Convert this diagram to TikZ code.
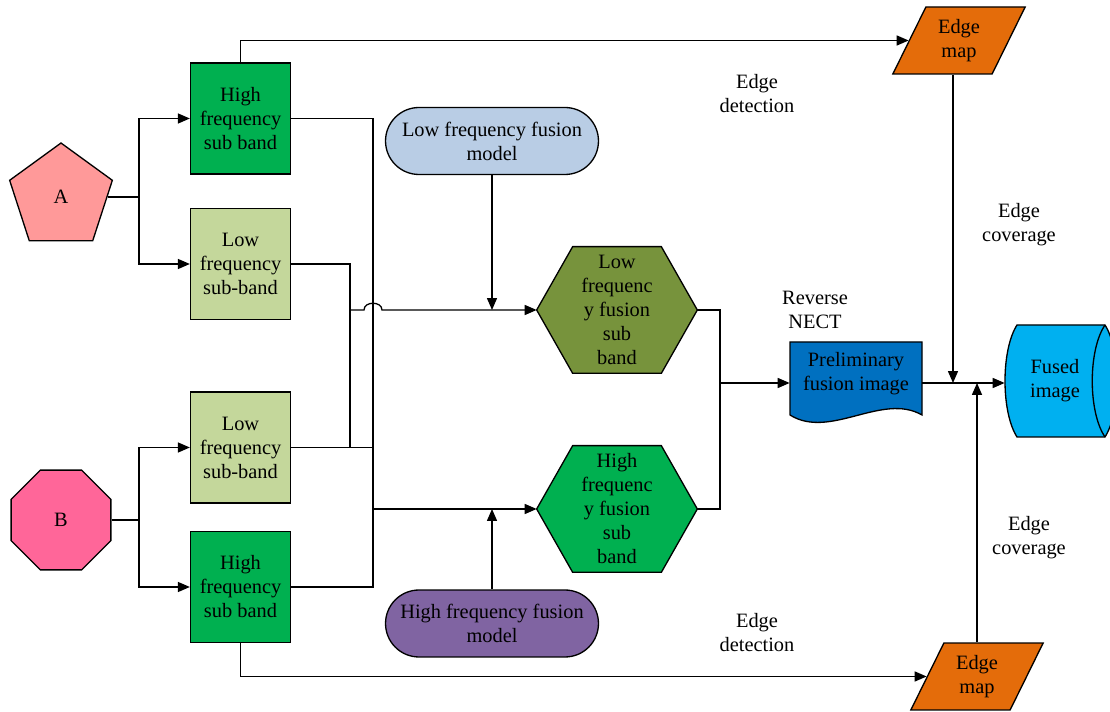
\documentclass[tikz,border=0pt]{standalone}
\usepackage{fontspec}
\setmainfont{Liberation Serif}
\usetikzlibrary{shapes.geometric,shapes.misc,arrows.meta,backgrounds,calc}

\definecolor{cA}{HTML}{FF9999}
\definecolor{cB}{HTML}{FF6699}
\definecolor{cHF}{HTML}{00B050}
\definecolor{cLF}{HTML}{C4D79B}
\definecolor{cLM}{HTML}{B9CDE5}
\definecolor{cHM}{HTML}{8064A2}
\definecolor{cHexL}{HTML}{77933C}
\definecolor{cDoc}{HTML}{0070C0}
\definecolor{cFused}{HTML}{00B0F0}
\definecolor{cEdge}{HTML}{E46C0A}

\begin{document}
\begin{tikzpicture}[x=0.02cm,y=-0.02cm,
  every node/.style={font=\fontsize{11.6}{13.66}\selectfont, align=center, inner sep=0pt},
  conn/.style={line width=0.75pt},
  arr/.style={conn,-{Triangle[length=6.8pt,width=5.7pt]}},
  shp/.style={draw=black, line width=0.75pt},
  band/.style={shp, rectangle, minimum width=2cm, minimum height=2.22cm},
  srcfive/.style={shp, regular polygon, regular polygon sides=5, minimum size=2.16cm, fill=cA},
  srceight/.style={shp, regular polygon, regular polygon sides=8, minimum size=2.16cm, fill=cB},
  model/.style={shp, rounded rectangle, minimum width=4.26cm, minimum height=1.34cm},
  hexa/.style={minimum width=3.2cm, minimum height=2.52cm},
  emap/.style={shp, fill=cEdge, trapezium, trapezium left angle=63.8, trapezium right angle=116.2,
    trapezium stretches=true, minimum width=2.66cm, minimum height=1.34cm},
  lbl/.style={}
]
\useasboundingbox (0,0) rectangle (1110,712);

% sources
\node[srcfive] (A) at (61,197) {A};
\node[srceight] (B) at (61,520) {B};

% decomposed sub bands
\node[band, fill=cHF] (hf1) at (240.5,118.5) {High\\frequency\\sub band};
\node[band, fill=cLF] (lf1) at (240.5,264) {Low\\frequency\\sub-band};
\node[band, fill=cLF] (lf2) at (240.5,447.5) {Low\\frequency\\sub-band};
\node[band, fill=cHF] (hf2) at (240.5,587) {High\\frequency\\sub band};

% fusion models
\node[model, fill=cLM] (lfm) at (492,141) {Low frequency fusion\\model};
\node[model, fill=cHM] (hfm) at (492,623.5) {High frequency fusion\\model};

% fused sub bands
\node[hexa] (hl) at (617,310) {Low\\frequenc\\y fusion\\sub\\band};
\node[hexa] (hh) at (617,509) {High\\frequenc\\y fusion\\sub\\band};

% results
\node[minimum width=2.64cm] (doc) at (856,374) {Preliminary\\fusion image};
\node[minimum width=2cm] (fused) at (1055,381) {Fused\\image};

% edge maps
\node[emap] (em1) at (959,40.5) {Edge\\map};
\node[emap] (em2) at (977,676.5) {Edge\\map};

% labels
\node[lbl] (ld1) at (757,94) {Edge\\detection};
\node[lbl] (lc1) at (1019,225) {Edge\\coverage};
\node[lbl] (lrn) at (815,310) {Reverse\\NECT};
\node[lbl] (lc2) at (1029,538) {Edge\\coverage};
\node[lbl] (ld2) at (757,633) {Edge\\detection};

% drawn outlines behind the text nodes
\begin{scope}[on background layer]
  \filldraw[shp, fill=cHexL] (hl.west) -- ([xshift=0.72cm]hl.north west) -- ([xshift=-0.72cm]hl.north east)
    -- (hl.east) -- ([xshift=-0.72cm]hl.south east) -- ([xshift=0.72cm]hl.south west) -- cycle;
  \filldraw[shp, fill=cHF] (hh.west) -- ([xshift=0.72cm]hh.north west) -- ([xshift=-0.72cm]hh.north east)
    -- (hh.east) -- ([xshift=-0.72cm]hh.south east) -- ([xshift=0.72cm]hh.south west) -- cycle;
  % document shape
  \filldraw[shp, fill=cDoc] (790,342) -- (922,342) -- (922,415)
    .. controls (882,392) and (830,440) .. (790,415) -- cycle;
  % horizontal drum
  \filldraw[shp, fill=cFused] (1017,325) -- (1105,325)
    .. controls (1121,350) and (1121,412) .. (1105,437) -- (1017,437)
    .. controls (1001,412) and (1001,350) .. (1017,325) -- cycle;
  \draw[shp] (1105,325) .. controls (1088,350) and (1088,412) .. (1105,437);
\end{scope}

% source splits
\coordinate (xa) at (139,0);
\coordinate (ja) at (A.east -| xa);
\coordinate (jb) at (B.east -| xa);
\draw[arr] (A.east) -- (ja) |- (hf1.west);
\draw[arr] (ja) |- (lf1.west);
\draw[arr] (B.east) -- (jb) |- (lf2.west);
\draw[arr] (jb) |- (hf2.west);

% edge detection
\draw[arr] (hf1.north) |- (em1.west);
\draw[arr] (hf2.south) |- (em2.west);

% low frequency merge with a hop over the high frequency bus
\coordinate (xl) at (350,0);
\coordinate (xh) at (373,0);
\draw[conn] (lf1.east) -| (xl |- hl.west);
\draw[conn] (lf2.east) -- (lf2.east -| xh);
\draw[conn] (xl |- lf2.east) -- (xl |- hl.west);
\draw[arr] (xl |- hl.west) -- ($(xh |- hl.west)+(-9,0)$)
  .. controls ($(xh |- hl.west)+(-9,-9)$) and ($(xh |- hl.west)+(9,-9)$) .. ($(xh |- hl.west)+(9,0)$)
  -- (hl.west);

% high frequency merge
\draw[conn] (hf1.east) -| (xh |- hh.west);
\draw[conn] (hf2.east) -| (xh |- hh.west);
\draw[arr] (xh |- hh.west) -- (hh.west);

% fusion models
\draw[arr] (lfm.south) -- (lfm.south |- hl.west);
\draw[arr] (hfm.north) -- (hfm.north |- hh.west);

% reverse transform and fusion
\coordinate (jr) at (720,383);
\draw[conn] (hl.east) -| (jr);
\draw[conn] (hh.east) -| (jr);
\draw[arr] (jr) -- (jr -| doc.west);
\draw[arr] (jr -| doc.east) -- (jr -| fused.west);
\coordinate (xe) at (953,0);
\draw[arr] (xe |- em1.south) -- (xe |- jr);
\draw[arr] (em2.north) -- (em2.north |- jr);
\end{tikzpicture}
\end{document}
